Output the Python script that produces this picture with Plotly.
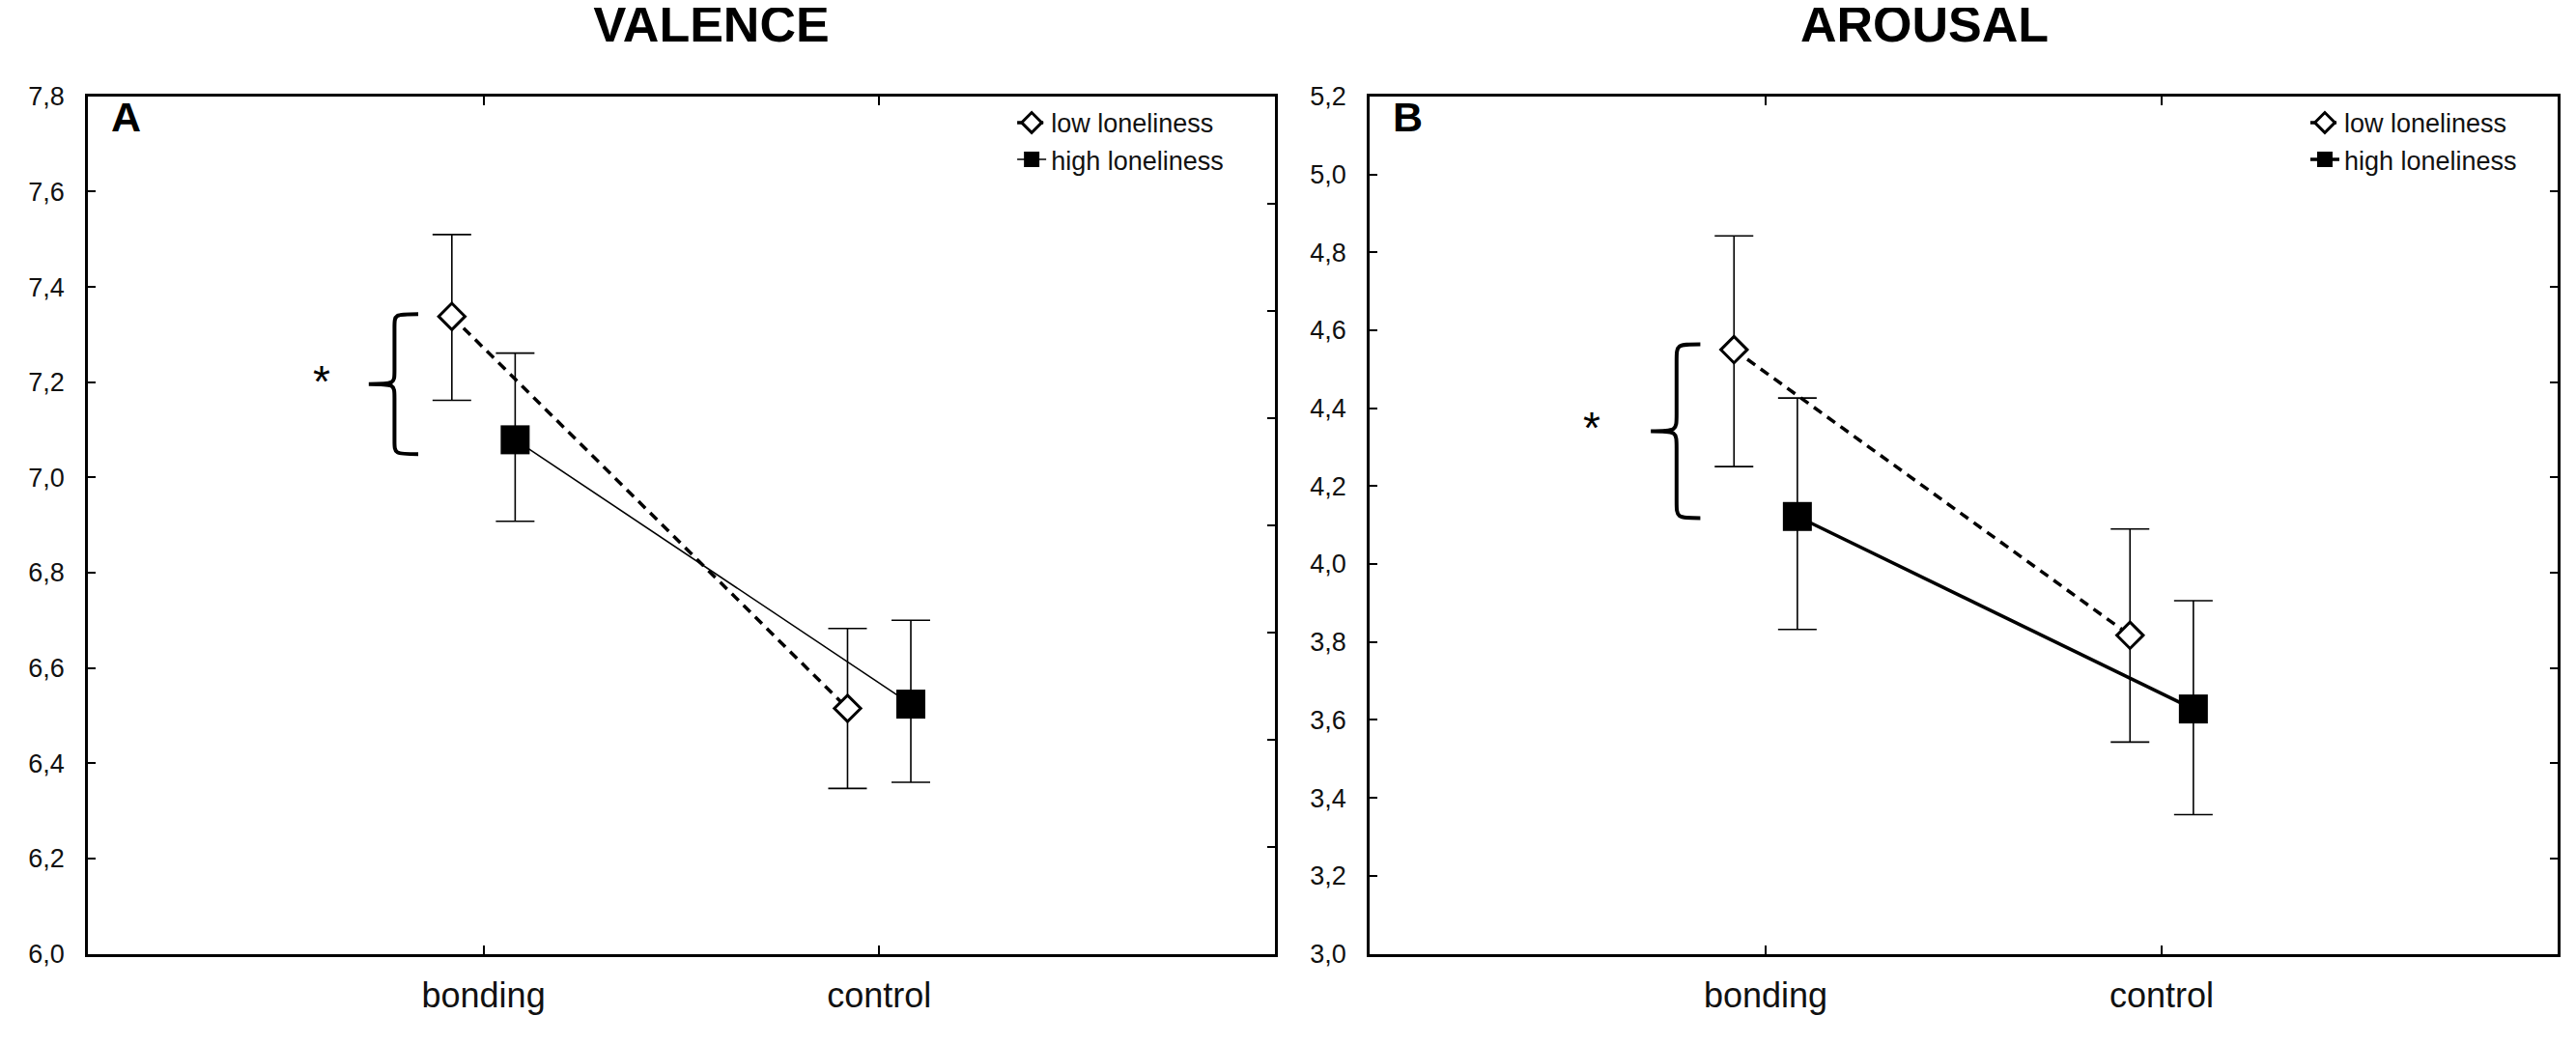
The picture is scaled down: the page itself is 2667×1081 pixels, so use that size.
import plotly.graph_objects as go

# conditions on the x axis
conditions = ["bonding", "control"]
cond_pos = [0, 1]
group_shift = 0.08

# VALENCE: means and error bar ends
val_low_mean = [7.338, 6.515]
val_low_upper = [7.51, 6.683]
val_low_lower = [7.162, 6.347]
val_high_mean = [7.079, 6.524]
val_high_upper = [7.261, 6.70]
val_high_lower = [6.908, 6.36]

# AROUSAL
aro_low_mean = [4.55, 3.817]
aro_low_upper = [4.842, 4.09]
aro_low_lower = [4.25, 3.543]
aro_high_mean = [4.122, 3.628]
aro_high_upper = [4.426, 3.906]
aro_high_lower = [3.832, 3.357]

# significance braces (top, bottom) at "bonding"
val_brace = [7.343, 7.049]
aro_brace = [4.564, 4.118]

FONT = "Liberation Sans, Arial, sans-serif"


def err(mean, upper, lower):
    return dict(type="data", symmetric=False,
                array=[u - m for u, m in zip(upper, mean)],
                arrayminus=[m - l for m, l in zip(mean, lower)],
                color="black", thickness=1.6, width=20)


def low_trace(mean, upper, lower, xa, ya, leg):
    return go.Scatter(
        x=[p - group_shift for p in cond_pos], y=mean, name="low loneliness",
        mode="lines+markers", xaxis=xa, yaxis=ya, legend=leg,
        line=dict(color="black", width=3.5, dash="10px,7px"),
        marker=dict(symbol="diamond", size=21, color="white",
                    line=dict(color="black", width=3)),
        error_y=err(mean, upper, lower))


def high_trace(mean, upper, lower, xa, ya, leg, lw):
    return go.Scatter(
        x=[p + group_shift for p in cond_pos], y=mean, name="high loneliness",
        mode="lines+markers", xaxis=xa, yaxis=ya, legend=leg,
        line=dict(color="black", width=lw),
        marker=dict(symbol="square", size=30, color="black"),
        error_y=err(mean, upper, lower))


def brace_path(top, bot, xv=-0.225, xt=-0.165, xc=-0.29):
    span = top - bot
    r = span * 0.1
    mid = (top + bot) / 2
    return (f"M {xt},{top} C {xv},{top} {xv},{top} {xv},{top - r} "
            f"L {xv},{mid + r} C {xv},{mid} {xv},{mid} {xc},{mid} "
            f"C {xv},{mid} {xv},{mid} {xv},{mid - r} "
            f"L {xv},{bot + r} C {xv},{bot} {xv},{bot} {xt},{bot}")


fig = go.Figure()
fig.add_trace(low_trace(val_low_mean, val_low_upper, val_low_lower, "x", "y", "legend"))
fig.add_trace(high_trace(val_high_mean, val_high_upper, val_high_lower, "x", "y", "legend", 1.6))
fig.add_trace(low_trace(aro_low_mean, aro_low_upper, aro_low_lower, "x2", "y2", "legend2"))
fig.add_trace(high_trace(aro_high_mean, aro_high_upper, aro_high_lower, "x2", "y2", "legend2", 3.5))

xdom1 = [0.0311, 0.4919]
xdom2 = [0.5287, 0.9899]
ydom = [0.0823, 0.9269]

xcommon = dict(range=[-1, 2], tickvals=cond_pos, ticktext=conditions,
               ticks="inside", ticklen=9, tickwidth=2, tickcolor="black",
               showline=True, linewidth=2.5, linecolor="black", mirror="ticks",
               showgrid=False, zeroline=False, ticklabelstandoff=10,
               tickfont=dict(family=FONT, size=36, color="#111"))
ycommon = dict(dtick=0.2, tickformat=".1f", ticks="inside", ticklen=8,
               tickwidth=2, tickcolor="black", showline=True, linewidth=2.5,
               linecolor="black", mirror=True, showgrid=False, zeroline=False,
               ticklabelstandoff=16,
               tickfont=dict(family=FONT, size=27, color="#111"))
# unlabelled right-hand scales with their own tick spacing
rcommon = dict(side="right", showticklabels=False, ticks="inside", ticklen=8,
               tickwidth=2, tickcolor="black", showline=False, showgrid=False,
               zeroline=False, fixedrange=True)

fig.update_layout(
    width=2667, height=1081,
    margin=dict(l=0, r=0, t=0, b=0),
    paper_bgcolor="white", plot_bgcolor="white",
    separators=", ",
    xaxis=dict(domain=xdom1, anchor="y", **xcommon),
    yaxis=dict(domain=ydom, anchor="x", range=[6.0, 7.8], **ycommon),
    xaxis2=dict(domain=xdom2, anchor="y2", **xcommon),
    yaxis2=dict(domain=ydom, anchor="x2", range=[3.0, 5.2], **ycommon),
    yaxis3=dict(overlaying="y", anchor="x", range=[0, 8], tickvals=list(range(1, 8)), **rcommon),
    yaxis4=dict(overlaying="y2", anchor="x2", range=[0, 9], tickvals=list(range(1, 9)), **rcommon),
    legend=dict(x=0.390, y=0.924, xanchor="left", yanchor="top",
                bgcolor="rgba(0,0,0,0)", tracegroupgap=0,
                font=dict(family=FONT, size=27, color="#111")),
    legend2=dict(x=0.892, y=0.924, xanchor="left", yanchor="top",
                 bgcolor="rgba(0,0,0,0)", tracegroupgap=0,
                 font=dict(family=FONT, size=27, color="#111")),
    showlegend=True,
)

# empty traces so the right-hand scales are drawn
fig.add_trace(go.Scatter(x=[], y=[], xaxis="x", yaxis="y3", showlegend=False, hoverinfo="skip"))
fig.add_trace(go.Scatter(x=[], y=[], xaxis="x2", yaxis="y4", showlegend=False, hoverinfo="skip"))

for xr, yr, span, xs in [("x", "y", val_brace, -0.41), ("x2", "y2", aro_brace, -0.44)]:
    fig.add_shape(type="path", xref=xr, yref=yr, path=brace_path(span[0], span[1]),
                  line=dict(color="black", width=4))
    fig.add_annotation(x=xs, y=(span[0] + span[1]) / 2, xref=xr, yref=yr,
                       text="*", showarrow=False, yshift=3,
                       font=dict(family=FONT, size=46, color="black"))

# panel titles and letters
for xc, title in [(0.2733, "VALENCE"), (0.744, "AROUSAL")]:
    fig.add_annotation(x=xc, y=1, xref="paper", yref="paper", xanchor="center",
                       yanchor="middle", yshift=-2, text="<b>" + title + "</b>",
                       showarrow=False,
                       font=dict(family=FONT, size=52, color="black"))
for xr, yr, letter in [("x domain", "y domain", "A"), ("x2 domain", "y2 domain", "B")]:
    fig.add_annotation(x=0.032, y=0.976, xref=xr, yref=yr, xanchor="center",
                       yanchor="middle", text="<b>" + letter + "</b>", showarrow=False,
                       font=dict(family=FONT, size=43, color="black"))

fig.write_html("out.html")
